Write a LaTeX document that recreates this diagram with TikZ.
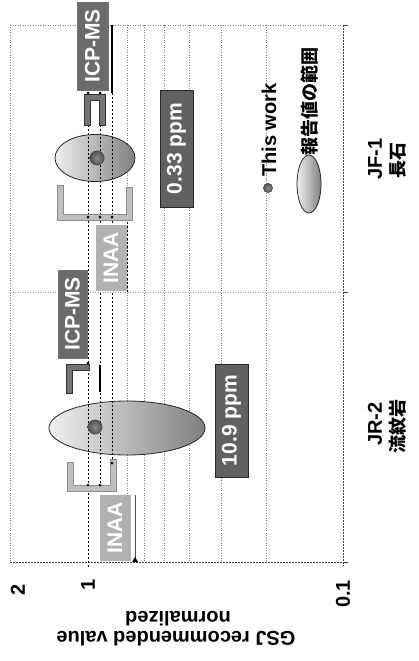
\documentclass[tikz,border=0pt]{standalone}
\usepackage{fontspec}
\setmainfont{Liberation Sans}
\newfontfamily\jpfont{Noto Sans CJK JP}
\begin{document}
\begin{tikzpicture}[x=1pt,y=-1pt,
  lbl/.style={font=\bfseries\fontsize{20}{24}\selectfont, inner sep=0pt},
  jp/.style={font=\jpfont\bfseries\fontsize{18}{22}\selectfont, inner sep=0pt},
  boxtxt/.style={font=\bfseries\fontsize{21}{24}\selectfont, inner sep=0pt, rotate=90, text=white},
  darkbox/.style={boxtxt, draw=black!85, fill=black!62, line width=0.8pt},
  icpbox/.style={boxtxt, draw=black!55, fill=black!58, line width=0.6pt},
  lightbox/.style={boxtxt, draw=black!30, fill=black!30, line width=0.8pt},
  gridln/.style={black!50, line width=0.5pt, dash pattern=on 1pt off 1.5pt},
  dgrid/.style={black, line width=0.6pt, dash pattern=on 2pt off 2pt},
  axisln/.style={black!75, line width=0.7pt, dash pattern=on 2pt off 1pt},
  brkout/.style={line width=7pt, line cap=rect, line join=miter},
  brkin/.style={line width=5pt, line cap=rect, line join=miter},
  ell/.style={draw=black!85, line width=0.8pt, left color=black!6, right color=black!50},
  mk/.style={black, radius=1.5pt},
]
\useasboundingbox (0,0) rectangle (418,661);
\fill[white] (0,0) rectangle (418,661);

% frame and grid
\draw[gridln] (10,25) -- (343,25);
\draw[gridln] (10,25) -- (10,562);
\draw[gridln, black!35] (10,292) -- (343,292);
\foreach \gx in {127,144,164,189,221,266}{\draw[gridln] (\gx,25) -- (\gx,562);}
\draw[axisln] (10,562) -- (343,562);
\draw[axisln] (343,25) -- (343,566);
\foreach \gy in {25,292,562}{\draw[black!75, line width=0.6pt] (343,\gy) -- (348,\gy);}

% ellipses (reported ranges)
\path[ell] (95,158) ellipse [x radius=40, y radius=23.5];
\path[ell] (127,428) ellipse [x radius=78, y radius=27];

% dark dashed lines
\draw[dgrid] (88,25) -- (88,568);
\draw[dgrid] (100,25) -- (100,490);
\draw[dgrid] (112,25) -- (112,490);
\draw[dgrid] (127,222) -- (127,292);
\draw[black!70, line width=0.6pt] (135,495) -- (135,561);
\draw[black, line width=1.6pt] (112,25) -- (112,93);
\draw[black, line width=2pt] (100,365) -- (100,392);

% this-work dots
\shade[inner color=black!45, outer color=black!70] (97,158) circle [radius=7.5];
\shade[inner color=black!45, outer color=black!70] (95,427) circle [radius=7.5];

% ICP-MS brackets
\draw[brkout, black!80] (87.5,122) -- (87.5,97.5) -- (102.5,97.5) -- (102.5,122);
\draw[brkin, black!55] (87.5,122) -- (87.5,97.5) -- (102.5,97.5) -- (102.5,122);
\draw[brkout, black!80] (69.5,390) -- (69.5,367) -- (86,367);
\draw[brkin, black!55] (69.5,390) -- (69.5,367) -- (86,367);

% INAA brackets
\draw[brkout, black!45] (60,188) -- (60,217) -- (129.5,217) -- (129.5,190);
\draw[brkin, black!25] (60,188) -- (60,217) -- (129.5,217) -- (129.5,190);
\draw[brkout, black!45] (70,465) -- (70,488) -- (113,488) -- (113,462);
\draw[brkin, black!25] (70,465) -- (70,488) -- (113,488) -- (113,462);

% markers
\foreach \p in {(88,93),(100,93),(88,217),(100,217),(112,217),(88,363),(88,485),(100,485),(112,463)}{\fill[mk] \p circle;}
\fill[black] (132,562) -- (135,557) -- (138,562) -- cycle;

% label boxes
\node[icpbox, minimum width=88pt, minimum height=31pt] (icp1) at (92.5,46) {ICP-MS};
\node[icpbox, minimum width=88pt, minimum height=29pt] (icp2) at (72.5,314) {ICP-MS};
\node[lightbox, minimum width=65pt, minimum height=30pt] (inaa1) at (111,257.5) {INAA};
\node[lightbox, minimum width=65pt, minimum height=30pt] (inaa2) at (115,527.5) {INAA};
\node[darkbox, minimum width=117pt, minimum height=33pt] (ppm1) at (176.5,148.5) {0.33 ppm};
\node[darkbox, minimum width=113pt, minimum height=33pt] (ppm2) at (231.5,420.5) {10.9 ppm};

% legend
\shade[inner color=black!45, outer color=black!70] (268,188) circle [radius=5];
\node[lbl, rotate=90] (lg1) at (269,130) {This work};
\path[ell] (309,184) ellipse [x radius=12, y radius=29];
\node[jp, rotate=90] (lg2) at (310,101) {報告値の範囲};

% category labels
\node[lbl, rotate=90] (c1) at (375,159) {JF-1};
\node[jp, rotate=90] (c1j) at (398,160) {長石};
\node[lbl, rotate=90] (c2) at (375,424) {JR-2};
\node[jp, rotate=90] (c2j) at (398,426) {流紋岩};

% value axis labels
\node[lbl, rotate=90] (v2) at (18,590) {2};
\node[lbl, rotate=90] (v1) at (88,585) {1};
\node[lbl, rotate=90] (v01) at (343,594) {0.1};
\node[lbl, rotate=180] (t1) at (176,639) {GSJ recommended value};
\node[lbl, rotate=180] (t2) at (178,619) {normalized};
\end{tikzpicture}
\end{document}
